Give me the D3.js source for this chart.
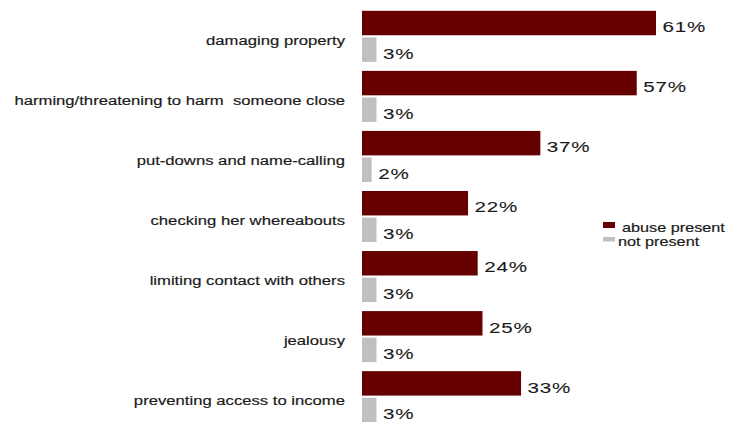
<!DOCTYPE html>
<html>
<head>
<meta charset="utf-8">
<script src="https://cdn.jsdelivr.net/npm/d3@7"></script>
<style>
  html, body { margin: 0; padding: 0; background: #fff; }
  svg { display: block; font-family: "Liberation Sans", Arial, sans-serif; }
</style>
</head>
<body>
<svg id="chart" width="732" height="422"></svg>
<script>
// Controlling behaviours and the share of women reporting each one
const categories = [
  "damaging property",
  "harming/threatening to harm  someone close",
  "put-downs and name-calling",
  "checking her whereabouts",
  "limiting contact with others",
  "jealousy",
  "preventing access to income"
];
const abusePresent = [61, 57, 37, 22, 24, 25, 33];
const notPresent   = [3, 3, 2, 3, 3, 3, 3];
const seriesNames  = ["abuse present", "not present"];
const seriesColors = ["#660000", "#c0c0c0"];

const svg = d3.select("#chart");
const ink = "#1a1a1a";

const x = d3.scaleLinear().domain([0, 100]).range([362, 844]);
const y = d3.scaleBand().domain(categories).range([6, 427]).paddingInner(0.15).paddingOuter(0.08);
const sub = d3.scaleBand().domain(seriesNames).range([0, y.bandwidth()]).paddingInner(0.08);

const rows = categories.map((c, i) => ({ c, vals: [abusePresent[i], notPresent[i]] }));

const g = svg.selectAll("g.row").data(rows).join("g")
  .attr("class", "row")
  .attr("transform", d => `translate(0,${y(d.c)})`);

// bars
g.selectAll("rect").data(d => d.vals.map((v, k) => ({ v, k }))).join("rect")
  .attr("x", x(0))
  .attr("y", d => sub(seriesNames[d.k]))
  .attr("width", d => x(d.v) - x(0))
  .attr("height", sub.bandwidth())
  .attr("fill", d => seriesColors[d.k]);

// value labels (wide lettering)
g.selectAll("text.val").data(d => d.vals.map((v, k) => ({ v, k }))).join("text")
  .attr("class", "val")
  .attr("transform", d => `translate(${x(d.v) + 6.5},${sub(seriesNames[d.k]) + sub.bandwidth() / 2 + 9.2}) scale(1.33,1)`)
  .attr("font-size", 15.5)
  .attr("letter-spacing", 0.6)
  .attr("fill", ink)
  .attr("stroke", ink)
  .attr("stroke-width", 0.08)
  .text(d => d.v + "%");

// category labels
g.append("text")
  .attr("transform", `translate(345,${y.bandwidth() / 2 + 8.8}) scale(1.235,1)`)
  .attr("text-anchor", "end")
  .attr("font-size", 13.5)
  .attr("fill", ink)
  .attr("stroke", ink)
  .attr("stroke-width", 0.18)
  .style("white-space", "pre")
  .text(d => d.c);

// legend
const legend = svg.append("g").attr("transform", "translate(603,222)");
const li = legend.selectAll("g").data(seriesNames).join("g")
  .attr("transform", (d, i) => `translate(0,${i * 15})`);
li.append("rect")
  .attr("width", 12).attr("height", (d, i) => i === 0 ? 6 : 4.5)
  .attr("fill", (d, i) => seriesColors[i]);
li.append("text")
  .attr("transform", (d, i) => `translate(${i === 0 ? 19 : 15},${i === 0 ? 10 : 8.5}) scale(1.32,1)`)
  .attr("font-size", 12.3)
  .attr("fill", ink)
  .attr("stroke", ink)
  .attr("stroke-width", 0.18)
  .text(d => d);
</script>
</body>
</html>
